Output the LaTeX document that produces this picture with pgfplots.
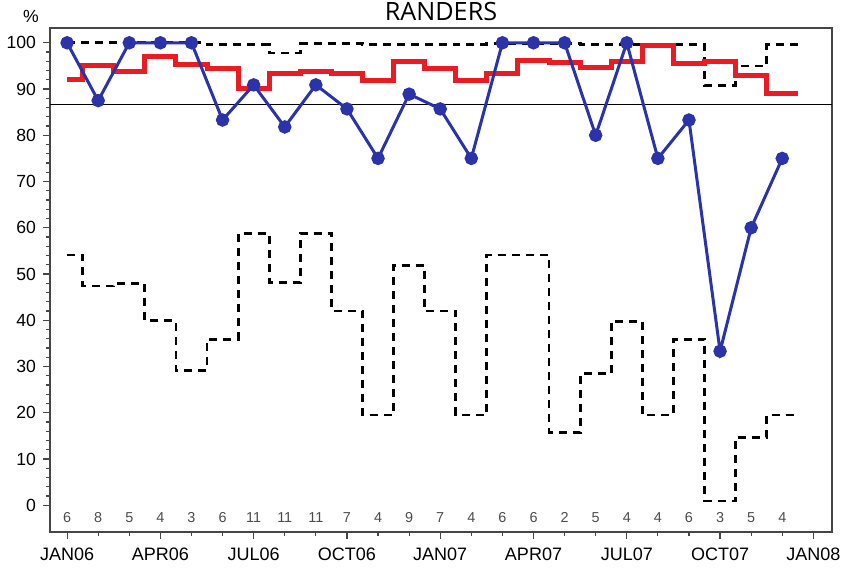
\documentclass[border=0pt]{standalone}
\usepackage{pgfplots}
\pgfplotsset{compat=1.18}
\usepackage{pgfplotstable}
\usepackage{fontspec}
\setmainfont{Liberation Sans}
\newfontfamily\titlefont{Open Sans}
\usetikzlibrary{calc}

\definecolor{ptblue}{RGB}{42,52,168}
\definecolor{meanred}{RGB}{232,28,34}
\definecolor{framegray}{RGB}{70,70,70}

% monthly percentage (month 0 = JAN06)
\pgfplotstableread{
x y
0 100
1 87.5
2 100
3 100
4 100
5 83.3
6 90.9
7 81.8
8 90.9
9 85.7
10 75
11 88.9
12 85.7
13 75
14 100
15 100
16 100
17 80
18 100
19 75
20 83.3
21 33.3
22 60
23 75
}\pct

% step lines: value holds from x to the next x
\pgfplotstableread{
x y
0 92.0
0.5 95.0
1.5 93.8
2.5 97.0
3.5 95.2
4.5 94.5
5.5 90.2
6.5 93.4
7.5 93.9
8.5 93.4
9.5 91.8
10.5 96.0
11.5 94.5
12.5 91.8
13.5 93.4
14.5 96.1
15.5 95.8
16.5 94.7
17.5 96.0
18.5 99.5
19.5 95.6
20.5 96.0
21.5 93.0
22.5 89.0
23.5 89.0
}\mean

\pgfplotstableread{
x y
0 100
0.5 100
1.5 100
2.5 100
3.5 100
4.5 99.6
5.5 99.6
6.5 97.8
7.5 99.8
8.5 99.8
9.5 99.7
10.5 99.6
11.5 99.6
12.5 99.7
13.5 99.8
14.5 99.8
15.5 99.8
16.5 99.7
17.5 99.7
18.5 99.6
19.5 99.6
20.5 90.8
21.5 95.0
22.5 99.6
23.5 99.6
}\ucl

\pgfplotstableread{
x y
0 54.1
0.5 47.4
1.5 48.0
2.5 39.9
3.5 29.2
4.5 35.9
5.5 58.8
6.5 48.2
7.5 58.8
8.5 42.0
9.5 19.5
10.5 51.9
11.5 42.0
12.5 19.5
13.5 54.1
14.5 54.1
15.5 15.7
16.5 28.4
17.5 39.8
18.5 19.5
19.5 35.9
20.5 0.9
21.5 14.7
22.5 19.5
23.5 19.5
}\lcl

% number of cases per month
\pgfplotstableread{
x y n
0 -2.6 6
1 -2.6 8
2 -2.6 5
3 -2.6 4
4 -2.6 3
5 -2.6 6
6 -2.6 11
7 -2.6 11
8 -2.6 11
9 -2.6 7
10 -2.6 4
11 -2.6 9
12 -2.6 7
13 -2.6 4
14 -2.6 6
15 -2.6 6
16 -2.6 2
17 -2.6 5
18 -2.6 4
19 -2.6 4
20 -2.6 6
21 -2.6 3
22 -2.6 5
23 -2.6 4
}\counts

\begin{document}
\begin{tikzpicture}
\begin{axis}[
    name=ax,
    scale only axis,
    width=391pt, height=252pt,
    xmin=-0.55, xmax=24.6,
    ymin=-5.8, ymax=103.2,
    xtick={0,3,...,24},
    xticklabels={JAN06,APR06,JUL06,OCT06,JAN07,APR07,JUL07,OCT07,JAN08},
    minor x tick num=2,
    ytick={0,10,...,100},
    minor y tick num=4,
    xtick pos=bottom, ytick pos=left,
    tick align=outside,
    major tick length=3.5pt, minor tick length=2pt,
    every tick/.style={framegray, line width=0.6pt},
    axis line style={framegray, line width=0.8pt},
    /pgf/number format/assume math mode=true,
    xticklabel style={font=\fontsize{9}{10}\selectfont, yshift=-1pt},
    yticklabel style={font=\fontsize{8.8}{9}\selectfont},
    clip=false,
]
\addplot[black, line width=0.6pt] coordinates {(-0.55,86.6) (24.6,86.6)};
\addplot[const plot mark left, black, line width=1.4pt, dash pattern=on 4pt off 3pt] table {\ucl};
\addplot[const plot mark left, black, line width=1.4pt, dash pattern=on 4pt off 3pt] table {\lcl};
\addplot[const plot mark left, meanred, line width=2.5pt] table {\mean};
\addplot[ptblue, line width=1.5pt, mark=*, mark size=2.6pt, mark options={fill=ptblue, draw=ptblue}] table {\pct};
\addplot[draw=none, mark=none, nodes near coords, point meta=explicit symbolic,
    every node near coord/.style={anchor=center, text=black!70, font=\fontsize{7.2}{8}\selectfont}]
    table[meta=n] {\counts};
\node[anchor=base, yshift=4pt, inner sep=0pt, font=\titlefont\fontsize{12.6}{13}\selectfont] at (rel axis cs:0.5,1) {RANDERS};
\node[anchor=base, xshift=-9.5pt, yshift=3pt, inner sep=0pt, font=\fontsize{8.8}{9}\selectfont] at (rel axis cs:0,1) {\%};
\end{axis}
\pgfresetboundingbox
\path[use as bounding box] ($(ax.south west)+(-25pt,-19pt)$) rectangle ($(ax.north east)+(6.5pt,14pt)$);
\end{tikzpicture}
\end{document}
